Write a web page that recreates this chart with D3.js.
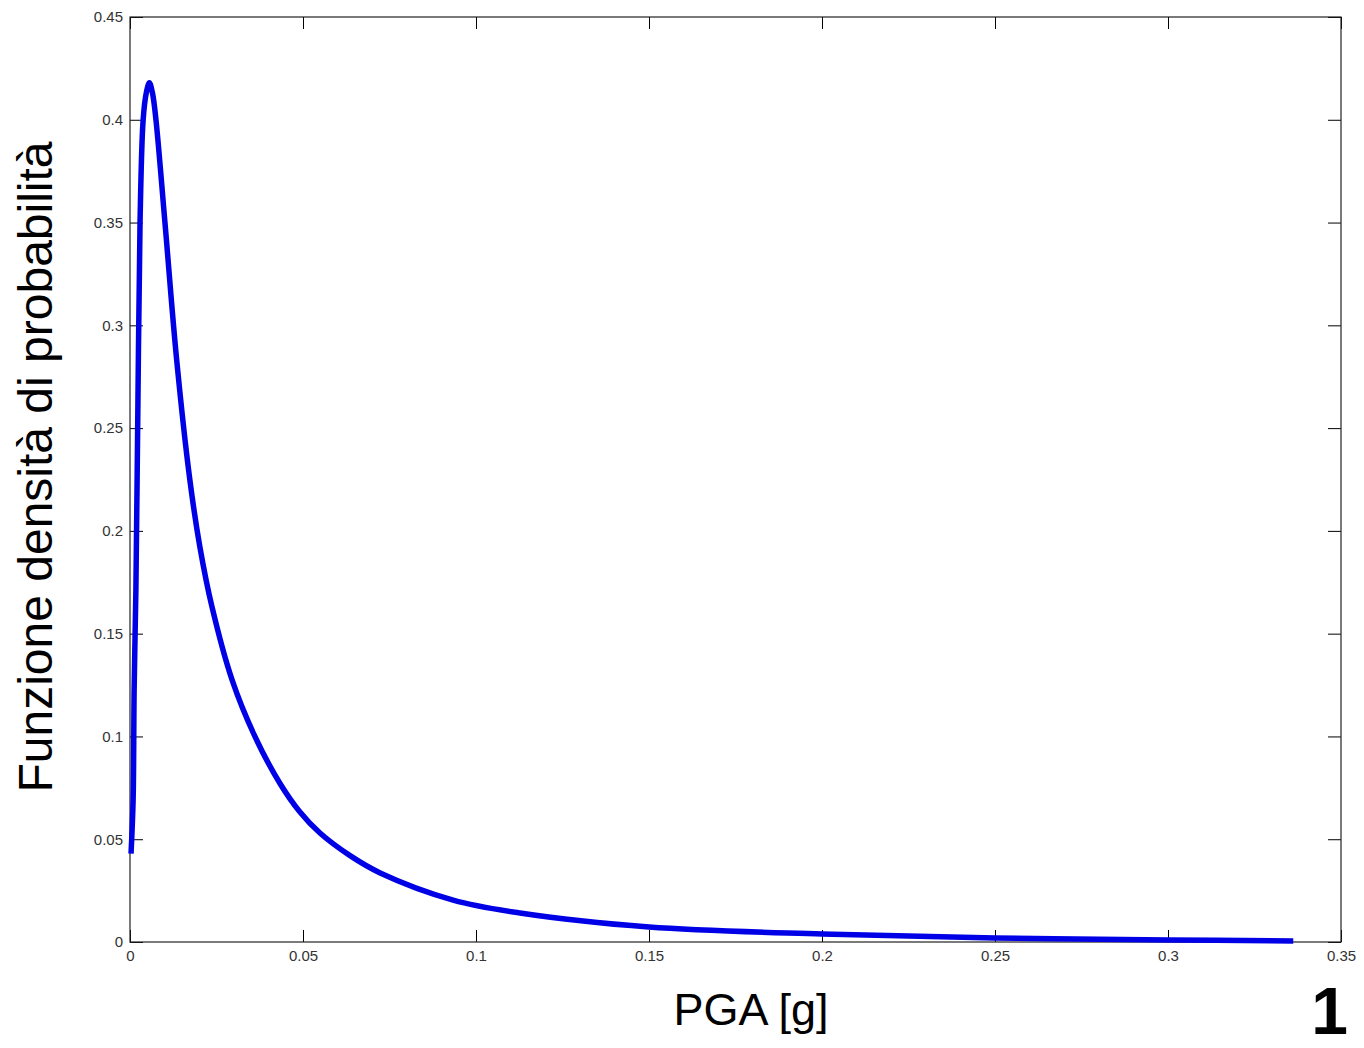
<!DOCTYPE html>
<html>
<head>
<meta charset="utf-8">
<script src="https://cdn.jsdelivr.net/npm/d3@7"></script>
<style>
  body { margin: 0; background: #fff; }
  svg { display: block; }
</style>
</head>
<body>
<div id="chart"></div>
<script>
// PGA [g] values along the curve and the density
const pgaValues = [0.0003, 0.0009, 0.0012, 0.0017, 0.0023, 0.0029, 0.0038, 0.0047, 0.0056, 0.0065,
    0.0075, 0.0101, 0.0135, 0.0173, 0.0202, 0.0237, 0.0295, 0.0361, 0.0434, 0.049,
    0.0549, 0.0636, 0.0723, 0.0934, 0.1127, 0.15, 0.2, 0.25, 0.3, 0.3362];
const densityValues = [0.043, 0.069, 0.123, 0.171, 0.264, 0.35, 0.40, 0.413, 0.418, 0.413,
    0.40, 0.35, 0.283, 0.2248, 0.1922, 0.163, 0.1275, 0.100, 0.077, 0.0635,
    0.053, 0.042, 0.0336, 0.0204, 0.0141, 0.0073, 0.0039, 0.002, 0.001, 0.0005];

const xTicks = [0, 0.05, 0.1, 0.15, 0.2, 0.25, 0.3, 0.35];
const xTickLabels = ["0", "0.05", "0.1", "0.15", "0.2", "0.25", "0.3", "0.35"];
const yTicks = [0, 0.05, 0.1, 0.15, 0.2, 0.25, 0.3, 0.35, 0.4, 0.45];
const yTickLabels = ["0", "0.05", "0.1", "0.15", "0.2", "0.25", "0.3", "0.35", "0.4", "0.45"];

const data = pgaValues.map((v, i) => ({ x: v, y: densityValues[i] }));

const W = 1364, H = 1048;
const margin = { top: 17, right: 23, bottom: 106, left: 130 },
    width = W - margin.left - margin.right,
    height = H - margin.top - margin.bottom;

const root = d3.select("#chart")
    .append("svg")
    .attr("width", W)
    .attr("height", H);

const svg = root.append("g")
    .attr("transform", `translate(${margin.left},${margin.top})`);

const x = d3.scaleLinear().domain([0, 0.35]).range([0, width]);
const y = d3.scaleLinear().domain([0, 0.45]).range([height, 0]);

const fmtX = d => xTickLabels[xTicks.indexOf(d)];
const fmtY = d => yTickLabels[yTicks.indexOf(d)];

// axes with inward ticks (bottom / left labelled, top / right mirrored)
const styleAxis = g => {
    g.select(".domain").remove();
    g.selectAll(".tick line").attr("stroke", "#000");
    g.selectAll(".tick text")
        .attr("fill", "#333")
        .style("font-family", "Arial, 'Liberation Sans', sans-serif")
        .style("font-size", "15px");
};

svg.append("g")
    .attr("transform", `translate(0,${height})`)
    .call(d3.axisBottom(x).tickValues(xTicks).tickFormat(fmtX).tickSizeInner(-12).tickSizeOuter(0).tickPadding(8))
    .call(styleAxis);

svg.append("g")
    .call(d3.axisLeft(y).tickValues(yTicks).tickFormat(fmtY).tickSizeInner(-13).tickSizeOuter(0).tickPadding(7))
    .call(styleAxis);

svg.append("g")
    .call(d3.axisTop(x).tickValues(xTicks).tickFormat("").tickSizeInner(-12).tickSizeOuter(0))
    .call(styleAxis);

svg.append("g")
    .attr("transform", `translate(${width},0)`)
    .call(d3.axisRight(y).tickValues(yTicks).tickFormat("").tickSizeInner(-13).tickSizeOuter(0))
    .call(styleAxis);

// frame
svg.append("rect")
    .attr("x", 0).attr("y", 0)
    .attr("width", width).attr("height", height)
    .attr("fill", "none")
    .attr("stroke", "#222")
    .attr("stroke-width", 1.2);

// density curve
const line = d3.line()
    .x(d => x(d.x))
    .y(d => y(d.y))
    .curve(d3.curveCatmullRom.alpha(0.5));

svg.append("path")
    .datum(data)
    .attr("d", line)
    .attr("fill", "none")
    .attr("stroke", "#0000e6")
    .attr("stroke-width", 5.5)
    .attr("stroke-linejoin", "round");

// axis titles
root.append("text")
    .attr("transform", `translate(52,467) rotate(-90)`)
    .attr("text-anchor", "middle")
    .style("font-family", "Arial, 'Liberation Sans', sans-serif")
    .style("font-size", "48px")
    .text("Funzione densità di probabilità");

root.append("text")
    .attr("x", 751)
    .attr("y", 1025)
    .attr("text-anchor", "middle")
    .style("font-family", "Arial, 'Liberation Sans', sans-serif")
    .style("font-size", "45px")
    .text("PGA [g]");

root.append("text")
    .attr("x", 1348)
    .attr("y", 1034)
    .attr("text-anchor", "end")
    .style("font-family", "Arial, 'Liberation Sans', sans-serif")
    .style("font-size", "66px")
    .style("font-weight", "bold")
    .text("1");
</script>
</body>
</html>
